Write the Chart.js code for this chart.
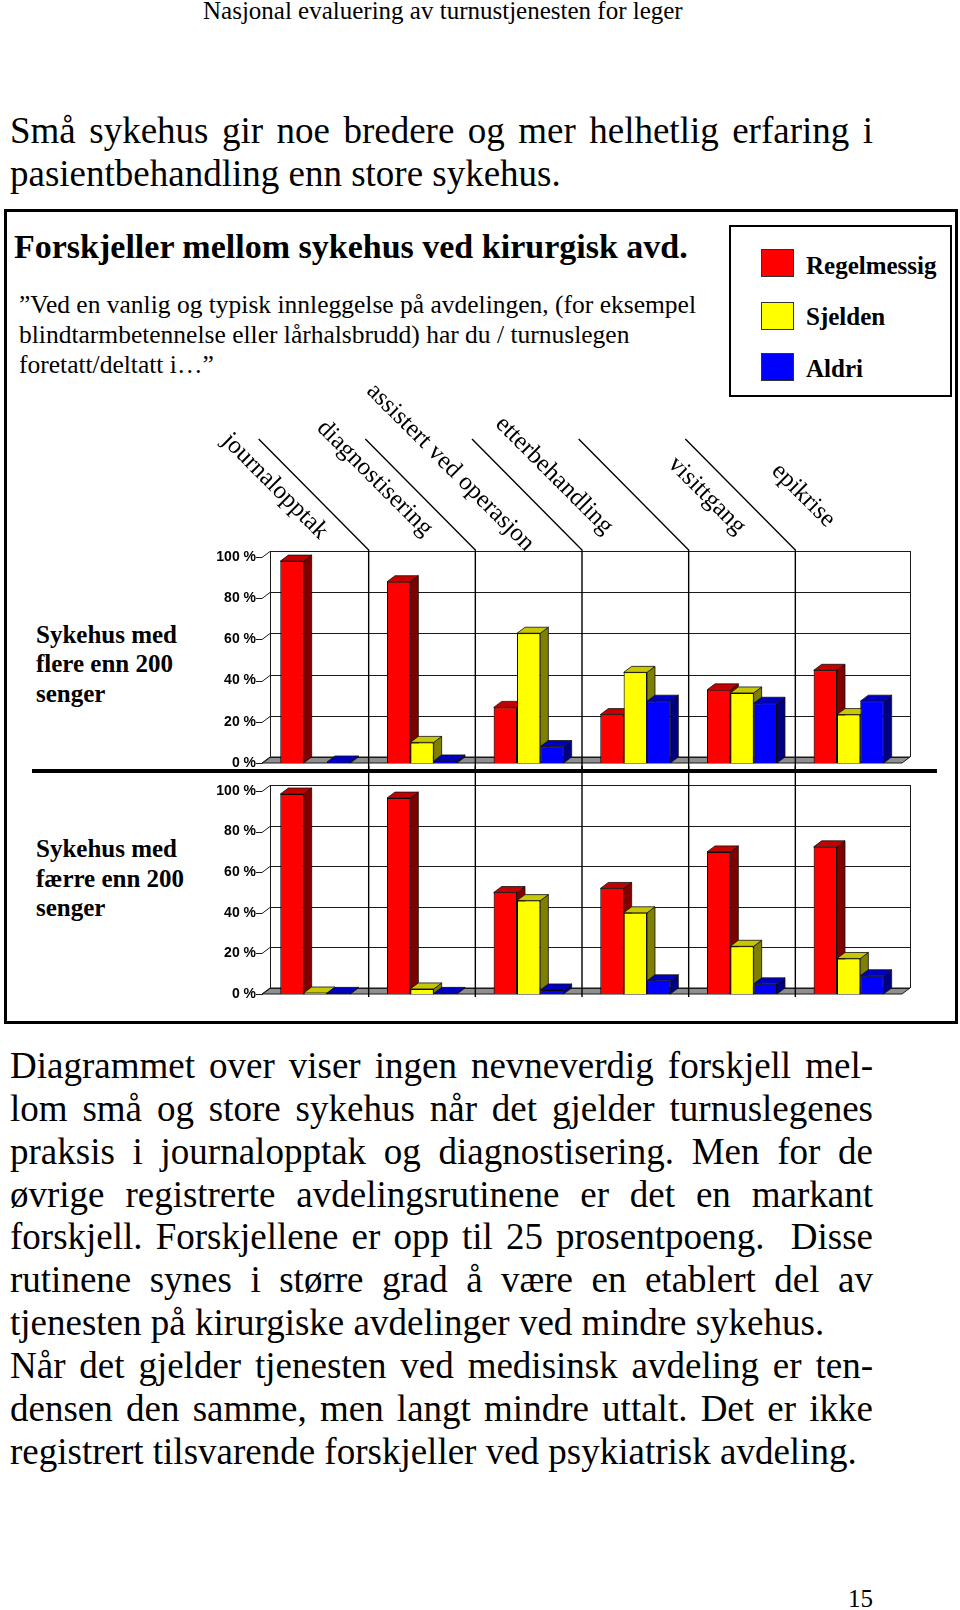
<!DOCTYPE html>
<html>
<head>
<meta charset="utf-8">
<script src="https://cdn.jsdelivr.net/npm/chart.js@4.4.1/dist/chart.umd.min.js"></script>
<style>
	body { margin: 0; background: #fff; }
	#page { position: relative; width: 960px; height: 1610px; overflow: hidden; font-family: 'Liberation Serif', 'Times New Roman', serif; color: #000; }
	.t { position: absolute; white-space: nowrap; line-height: 1; }
	.j { position: absolute; left: 10px; width: 863px; text-align: justify; text-align-last: justify; font-size: 37px; line-height: 1; white-space: normal; }
	.p { position: absolute; left: 10px; font-size: 37px; line-height: 1; white-space: nowrap; }
	.b { font-weight: bold; font-size: 25px; }
	.q { font-size: 25.5px; left: 19px; }
	#box { position: absolute; left: 4px; top: 209px; width: 954px; height: 815px; border: 3px solid #000; box-sizing: border-box; }
	#legend { position: absolute; left: 729px; top: 225px; width: 223px; height: 172px; border: 2px solid #000; box-sizing: border-box; }
	.sw { position: absolute; left: 761px; width: 33px; height: 28px; border: 1px solid #333; box-sizing: border-box; }
	#sep { position: absolute; left: 32px; top: 769px; width: 905px; height: 4px; background: #000; }
	canvas { position: absolute; left: 0; }
</style>
</head>
<body>
<div id="page">
	<div class="t" style="left:203px;top:-2px;font-size:25px;">Nasjonal evaluering av turnustjenesten for leger</div>

	<div class="j" style="top:112px;">Små sykehus gir noe bredere og mer helhetlig erfaring i</div>
	<div class="p" style="top:155px;">pasientbehandling enn store sykehus.</div>

	<div id="box"></div>
	<div class="t" style="left:14px;top:230px;font-size:34px;font-weight:bold;">Forskjeller mellom sykehus ved kirurgisk avd.</div>
	<div class="t q" style="top:292px;">”Ved en vanlig og typisk innleggelse på avdelingen, (for eksempel</div>
	<div class="t q" style="top:322px;">blindtarmbetennelse eller lårhalsbrudd) har du / turnuslegen</div>
	<div class="t q" style="top:352px;">foretatt/deltatt i…”</div>

	<div id="legend"></div>
	<div class="sw" style="top:249px;background:#ff0000;"></div>
	<div class="sw" style="top:302px;background:#ffff00;"></div>
	<div class="sw" style="top:353px;background:#0000ff;"></div>
	<div class="t b" style="left:806px;top:253px;">Regelmessig</div>
	<div class="t b" style="left:806px;top:304px;">Sjelden</div>
	<div class="t b" style="left:806px;top:356px;">Aldri</div>

	<div class="t b" style="left:36px;top:622px;">Sykehus med</div>
	<div class="t b" style="left:36px;top:651px;">flere enn 200</div>
	<div class="t b" style="left:36px;top:681px;">senger</div>
	<div class="t b" style="left:36px;top:836px;">Sykehus med</div>
	<div class="t b" style="left:36px;top:866px;">færre enn 200</div>
	<div class="t b" style="left:36px;top:895px;">senger</div>

	<div id="sep"></div>
	<canvas id="chartTop" width="960" height="420" style="top:370px;"></canvas>
	<canvas id="chartBottom" width="960" height="250" style="top:766px;"></canvas>

	<div class="j" style="top:1047px;">Diagrammet over viser ingen nevneverdig forskjell mel-</div>
	<div class="j" style="top:1090px;">lom små og store sykehus når det gjelder turnuslegenes</div>
	<div class="j" style="top:1133px;">praksis i journalopptak og diagnostisering. Men for de</div>
	<div class="j" style="top:1176px;">øvrige registrerte avdelingsrutinene er det en markant</div>
	<div class="j" style="top:1218px;">forskjell. Forskjellene er opp til 25 prosentpoeng.&nbsp; Disse</div>
	<div class="j" style="top:1261px;">rutinene synes i større grad å være en etablert del av</div>
	<div class="p" style="top:1304px;">tjenesten på kirurgiske avdelinger ved mindre sykehus.</div>
	<div class="j" style="top:1347px;">Når det gjelder tjenesten ved medisinsk avdeling er ten-</div>
	<div class="j" style="top:1390px;">densen den samme, men langt mindre uttalt. Det er ikke</div>
	<div class="p" style="top:1433px;">registrert tilsvarende forskjeller ved psykiatrisk avdeling.</div>

	<div class="t" style="left:848px;top:1586px;font-size:25px;">15</div>
</div>

<script>
const categories = ['journalopptak', 'diagnostisering', 'assistert ved operasjon', 'etterbehandling', 'visittgang', 'epikrise'];
const seriesNames = ['Regelmessig', 'Sjelden', 'Aldri'];
const yTicks = [0, 20, 40, 60, 80, 100];

// sykehus med flere enn 200 senger
const storeRegelmessig = [98, 88, 27, 23.5, 35.5, 45];
const storeSjelden = [null, 10, 63, 44, 34, 23.5];
const storeAldri = [0.5, 1, 8, 30, 29, 30];

// sykehus med færre enn 200 senger
const smaaRegelmessig = [98.5, 96.5, 50, 52, 70, 72.5];
const smaaSjelden = [0.5, 2.5, 46, 40, 23.5, 17.5];
const smaaAldri = [0.3, 0.3, 2, 6.5, 5, 9];

const frontColors = ['#ff0000', '#ffff00', '#0000ff'];
const topColors = ['#c40000', '#c8c800', '#0000c0'];
const sideColors = ['#800000', '#808000', '#000080'];
const labelNudgeX = [4, 2, -3, -31, -5, -22];
const labelNudgeY = [-17, -20, -5, -22, -22, -29];
const depthX = 8;
const depthY = 6;

function poly(ctx, pts, fill) {
	ctx.beginPath();
	ctx.moveTo(pts[0][0], pts[0][1]);
	for (let i = 1; i < pts.length; i++) ctx.lineTo(pts[i][0], pts[i][1]);
	ctx.closePath();
	ctx.fillStyle = fill;
	ctx.fill();
	ctx.stroke();
}

function boundaries(x) {
	const out = [];
	for (let i = 0; i < categories.length - 1; i++) {
		out.push((x.getPixelForValue(i) + x.getPixelForValue(i + 1)) / 2);
	}
	return out;
}

const box3d = {
	id: 'box3d',
	beforeDatasetsDraw(chart, args, opts) {
		const { ctx, chartArea: a, scales: { x, y } } = chart;
		const y0 = y.getPixelForValue(0);
		const yTop = y.getPixelForValue(100);
		ctx.save();
		ctx.lineWidth = 1;
		ctx.strokeStyle = '#1a1a1a';
		// gulv
		poly(ctx, [[a.left, y0], [a.right, y0], [a.right + depthX, y0 - depthY], [a.left + depthX, y0 - depthY]], '#8f8f8f');
		// bakvegg
		yTicks.forEach((v) => {
			const py = Math.round(y.getPixelForValue(v)) + 0.5;
			ctx.beginPath();
			ctx.moveTo(a.left - 6, py);
			ctx.lineTo(a.left, py);
			ctx.lineTo(a.left + depthX, py - depthY);
			ctx.lineTo(a.right + depthX, py - depthY);
			ctx.stroke();
		});
		ctx.beginPath();
		ctx.moveTo(a.left + depthX + 0.5, yTop - depthY);
		ctx.lineTo(a.left + depthX + 0.5, y0 - depthY);
		ctx.moveTo(a.right + depthX + 0.5, yTop - depthY);
		ctx.lineTo(a.right + depthX + 0.5, y0 - depthY);
		ctx.stroke();

		ctx.strokeStyle = '#000';
		ctx.lineWidth = 1.4;
		boundaries(x).forEach((bx) => {
			ctx.beginPath();
			if (opts.top) {
				ctx.moveTo(bx - 110, yTop - 118);
				ctx.lineTo(bx, yTop - 7);
				ctx.lineTo(bx, y0 + 10);
			} else {
				ctx.moveTo(bx, 0);
				ctx.lineTo(bx, y0 + 3);
			}
			ctx.stroke();
		});

		if (opts.top) {
			ctx.fillStyle = '#000';
			ctx.font = "25px 'Liberation Serif', 'Times New Roman', serif";
			ctx.textAlign = 'right';
			ctx.textBaseline = 'alphabetic';
			categories.forEach((c, i) => {
				ctx.save();
				ctx.translate(x.getPixelForValue(i) + labelNudgeX[i], yTop + labelNudgeY[i]);
				ctx.rotate(Math.PI / 4);
				ctx.fillText(c, 0, 0);
				ctx.restore();
			});
		}
		ctx.restore();
	},
	afterDatasetsDraw(chart) {
		const { ctx } = chart;
		ctx.save();
		ctx.lineWidth = 0.8;
		ctx.strokeStyle = '#111';
		chart.data.datasets.forEach((ds, di) => {
			chart.getDatasetMeta(di).data.forEach((bar, i) => {
				if (ds.data[i] == null) return;
				const { x, y, base, width } = bar.getProps(['x', 'y', 'base', 'width'], true);
				const l = x - width / 2;
				const r = x + width / 2;
				poly(ctx, [[r, y], [r + depthX, y - depthY], [r + depthX, base - depthY], [r, base]], sideColors[di]);
				poly(ctx, [[l, y], [r, y], [r + depthX, y - depthY], [l + depthX, y - depthY]], topColors[di]);
				bar.draw(ctx);
			});
		});
		ctx.restore();
	},
};

function makeDatasets(values) {
	return values.map((data, i) => ({
		label: seriesNames[i],
		data: data,
		backgroundColor: frontColors[i],
		borderColor: 'rgba(0,0,0,0.75)',
		borderWidth: 1,
		barPercentage: 1,
		categoryPercentage: 0.656,
	}));
}

function makeOptions(padding, isTop) {
	return {
		responsive: false,
		animation: false,
		layout: { padding: padding },
		plugins: {
			legend: { display: false },
			tooltip: { enabled: false },
			box3d: { top: isTop },
		},
		scales: {
			x: { display: false },
			y: {
				min: 0,
				max: 100,
				afterFit: (scale) => {
					scale.width = 262;
				},
				grid: { display: false, drawTicks: false },
				border: { display: false },
				ticks: {
					stepSize: 20,
					padding: 6,
					color: '#000',
					font: { family: "'Liberation Sans', Arial, sans-serif", size: 14, weight: 'bold' },
					callback: (v) => v + ' %',
				},
			},
		},
	};
}

window.chartTop = new Chart(document.getElementById('chartTop'), {
	type: 'bar',
	data: { labels: categories, datasets: makeDatasets([storeRegelmessig, storeSjelden, storeAldri]) },
	options: makeOptions({ top: 187, bottom: 27, left: 0, right: 58 }, true),
	plugins: [box3d],
});

window.chartBottom = new Chart(document.getElementById('chartBottom'), {
	type: 'bar',
	data: { labels: categories, datasets: makeDatasets([smaaRegelmessig, smaaSjelden, smaaAldri]) },
	options: makeOptions({ top: 25, bottom: 22, left: 0, right: 58 }, false),
	plugins: [box3d],
});
</script>
</body>
</html>
